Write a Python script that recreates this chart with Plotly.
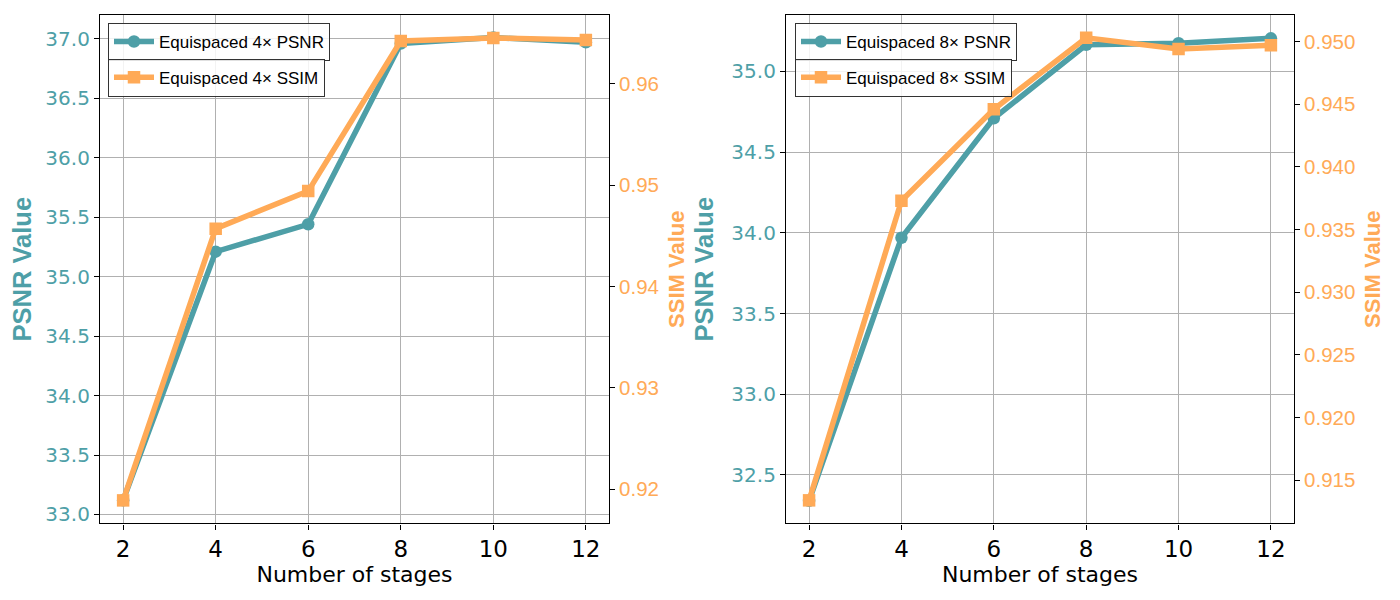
import plotly.graph_objects as go

stages = [2, 4, 6, 8, 10, 12]
psnr_4x = [33.12, 35.21, 35.44, 36.96, 37.01, 36.97]
ssim_4x = [0.9189, 0.9457, 0.9494, 0.9642, 0.9645, 0.9643]
psnr_8x = [32.34, 33.97, 34.71, 35.165, 35.175, 35.205]
ssim_8x = [0.9134, 0.9373, 0.9446, 0.9503, 0.9494, 0.9497]

names_left = ["Equispaced 4× PSNR", "Equispaced 4× SSIM"]
names_right = ["Equispaced 8× PSNR", "Equispaced 8× SSIM"]

TEAL = "#4E9FA7"
ORANGE = "#FFAA57"
W, H = 1400, 600
OFF = 8  # page body margin

fig = go.Figure()

def add_pair(psnr, ssim, names, xa, ya_p, ya_s, lg_p, lg_s):
    fig.add_trace(go.Scatter(x=stages, y=psnr, name=names[0], mode="lines+markers",
                             line=dict(color=TEAL, width=5.5),
                             marker=dict(symbol="circle", size=12.5, color=TEAL),
                             xaxis=xa, yaxis=ya_p, legend=lg_p))
    fig.add_trace(go.Scatter(x=stages, y=ssim, name=names[1], mode="lines+markers",
                             line=dict(color=ORANGE, width=5.5),
                             marker=dict(symbol="square", size=12.5, color=ORANGE),
                             xaxis=xa, yaxis=ya_s, legend=lg_s))

add_pair(psnr_4x, ssim_4x, names_left, "x", "y", "y2", "legend", "legend2")
add_pair(psnr_8x, ssim_8x, names_right, "x2", "y3", "y4", "legend3", "legend4")

def px_x(p):
    return (p - OFF) / W

def px_y(p):
    return 1 - (p - OFF) / H

ydom = [px_y(526), px_y(15)]
xdom_l = [px_x(100), px_x(609)]
xdom_r = [px_x(786), px_x(1294)]

DV = "DejaVu Sans"
AR = "Liberation Sans"

def xaxis_cfg(dom, anchor):
    return dict(domain=dom, anchor=anchor, range=[1.5, 12.5], tickvals=stages,
                showgrid=True, gridcolor="#b0b0b0", gridwidth=1,
                showline=True, linecolor="black", linewidth=1.2, mirror=True,
                ticks="outside", ticklen=5, tickcolor="black",
                tickfont=dict(family=DV, size=23, color="black"),
                title=dict(text="Number of stages", font=dict(family=DV, size=22, color="black"),
                           standoff=2),
                zeroline=False)

def psnr_cfg(rng, anchor):
    return dict(domain=ydom, anchor=anchor, range=rng, dtick=0.5, tickformat=".1f",
                showgrid=True, gridcolor="#b0b0b0", gridwidth=1,
                showline=True, linecolor="black", linewidth=1.2, mirror=True,
                ticks="outside", ticklen=5, tickcolor="black",
                tickfont=dict(family=DV, size=20, color=TEAL),
                title=dict(text="<b>PSNR Value</b>", font=dict(family=AR, size=25.5, color=TEAL),
                           standoff=10),
                zeroline=False)

def ssim_cfg(rng, anchor, over, dtick, fmt):
    return dict(domain=ydom, anchor=anchor, overlaying=over, side="right", range=rng,
                dtick=dtick, tickformat=fmt, showgrid=False,
                showline=False, ticks="outside", ticklen=5, tickcolor="black",
                tickfont=dict(family=AR, size=20.5, color=ORANGE),
                title=dict(text="<b>SSIM Value</b>", font=dict(family=AR, size=22, color=ORANGE),
                           standoff=10),
                zeroline=False)

def legend_cfg(x, y):
    return dict(x=x, y=y, xanchor="left", yanchor="top", bgcolor="rgba(255,255,255,0.85)",
                bordercolor="#333333", borderwidth=1,
                font=dict(family=AR, size=17, color="black"),
                itemwidth=40, tracegroupgap=0)

fig.update_layout(
    width=W, height=H,
    margin=dict(l=0, r=0, t=0, b=0),
    paper_bgcolor="white", plot_bgcolor="white",
    showlegend=True,
    xaxis=xaxis_cfg(xdom_l, "y"),
    yaxis=psnr_cfg([32.925, 37.2], "x"),
    yaxis2=ssim_cfg([0.91663, 0.96677], "x", "y", 0.01, ".2f"),
    xaxis2=xaxis_cfg(xdom_r, "y3"),
    yaxis3=psnr_cfg([32.20, 35.35], "x2"),
    yaxis4=ssim_cfg([0.91156, 0.95212], "x2", "y3", 0.005, ".3f"),
    legend=legend_cfg(px_x(108), px_y(23)),
    legend2=legend_cfg(px_x(108), px_y(59)),
    legend3=legend_cfg(px_x(795), px_y(23)),
    legend4=legend_cfg(px_x(795), px_y(59)),
)

fig.write_html("out.html")
